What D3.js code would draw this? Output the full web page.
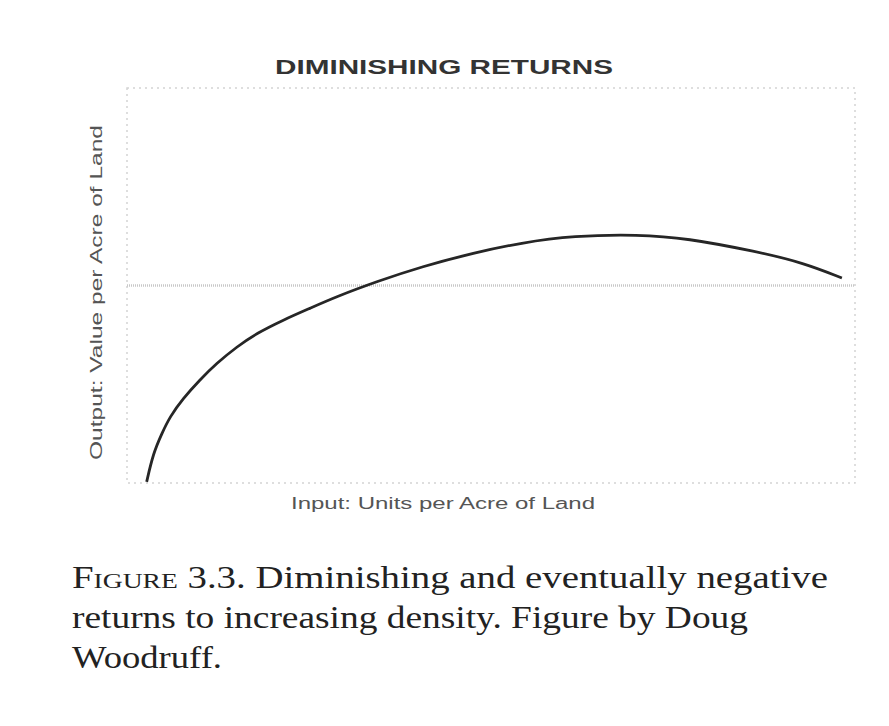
<html lang="en">

<head>
  <meta charset="utf-8">
  <title>Diminishing returns</title>
  <script type="text/javascript" src="https://d3js.org/d3.v7.min.js"></script>
  <style>
    body { margin: 0; background: #fff; }
  </style>
</head>

<body>
  <script type="text/javascript">
    const width = 889;
    const height = 726;

    // curve (arbitrary units 0-100)
    const inputUnits = [2.7, 3.6, 4.8, 5.9, 7.7, 10.0, 12.3, 15.1, 17.8, 21.5, 25.1, 28.8, 34.3, 40.5, 47.7, 54.1, 61.3, 70.3, 76.8, 86.5, 93, 98.2];
    const outputValue = [0.3, 7.5, 12.6, 16.8, 21.4, 26.1, 30.3, 34.5, 37.9, 41.3, 44.2, 47.2, 51.0, 54.8, 58.3, 60.8, 62.6, 62.9, 62.0, 58.6, 55.7, 51.9];
    const referenceLevel = [50];
    const captionLines = [
      ["Figure", " 3.3. Diminishing and eventually negative"],
      ["", "returns to increasing density. Figure by Doug"],
      ["", "Woodruff."]
    ];

    const margin = { left: 127, right: 34, top: 88, bottom: 243 };

    const svg = d3.select("body").append("svg").attr("width", width).attr("height", height);

    const xScale = d3.scaleLinear().domain([0, 100]).range([margin.left, width - margin.right]);
    const yScale = d3.scaleLinear().domain([0, 100]).range([height - margin.bottom, margin.top]);

    // plot frame
    svg.append("rect")
      .attr("x", xScale(0))
      .attr("y", yScale(100))
      .attr("width", xScale(100) - xScale(0))
      .attr("height", yScale(0) - yScale(100))
      .attr("fill", "none")
      .attr("stroke", "#d4d4d4")
      .attr("stroke-width", 1.5)
      .attr("stroke-dasharray", "2,4");

    // reference line
    svg.selectAll(".ref")
      .data(referenceLevel)
      .enter()
      .append("line")
      .attr("class", "ref")
      .attr("x1", xScale(0))
      .attr("x2", xScale(100))
      .attr("y1", d => yScale(d))
      .attr("y2", d => yScale(d))
      .attr("stroke", "#c8c8c8")
      .attr("stroke-width", 2.5)
      .attr("stroke-dasharray", "1,1");

    const ds = inputUnits.map((x, i) => ({ x: x, y: outputValue[i] }));
    const line = d3.line()
      .x(d => xScale(d.x))
      .y(d => yScale(d.y))
      .curve(d3.curveBasis);

    svg.append("path")
      .datum(ds)
      .attr("d", line)
      .attr("fill", "none")
      .attr("stroke", "#262626")
      .attr("stroke-width", 2.8);

    // titles
    svg.append("text")
      .attr("x", 275)
      .attr("y", 74)
      .attr("textLength", 338)
      .attr("lengthAdjust", "spacingAndGlyphs")
      .attr("font-family", "Liberation Sans, Arial, sans-serif")
      .attr("font-weight", "bold")
      .attr("font-size", 20)
      .attr("fill", "#333")
      .text("DIMINISHING RETURNS");

    svg.append("text")
      .attr("x", 291)
      .attr("y", 509)
      .attr("textLength", 304)
      .attr("lengthAdjust", "spacingAndGlyphs")
      .attr("font-family", "Liberation Sans, Arial, sans-serif")
      .attr("font-size", 16)
      .attr("fill", "#555")
      .text("Input: Units per Acre of Land");

    svg.append("text")
      .attr("transform", "translate(102,460) rotate(-90)")
      .attr("textLength", 335)
      .attr("lengthAdjust", "spacingAndGlyphs")
      .attr("font-family", "Liberation Sans, Arial, sans-serif")
      .attr("font-size", 16)
      .attr("fill", "#555")
      .text("Output: Value per Acre of Land");

    // caption
    const captionWidths = [756, 676, 150];
    const caption = svg.append("g")
      .attr("font-family", "Liberation Serif, Times New Roman, serif")
      .attr("font-size", 31)
      .attr("fill", "#222");

    captionLines.forEach((parts, i) => {
      const t = caption.append("text")
        .attr("x", 72)
        .attr("y", 588 + i * 40)
        .attr("textLength", captionWidths[i])
        .attr("lengthAdjust", "spacingAndGlyphs");
      if (parts[0]) {
        t.append("tspan").attr("font-variant", "small-caps").text(parts[0]);
      }
      t.append("tspan").text(parts[1]);
    });
  </script>
</body>

</html>
